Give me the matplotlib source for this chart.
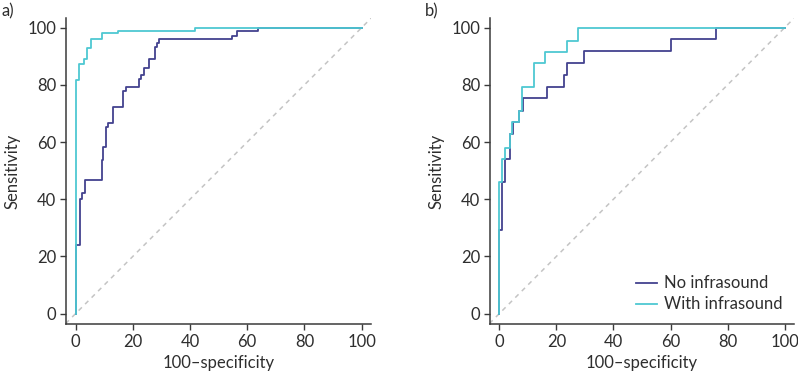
import matplotlib.pyplot as plt

plt.rcParams['font.family'] = ['Lato', 'DejaVu Sans']

navy = '#43428f'
cyan = '#4ec8d2'

# panel a) ROC step curves (100-specificity, sensitivity)
a_no_x = [0, 0, 1.5, 1.5, 2.3, 2.3, 3.4, 3.4, 9.1, 9.1, 9.5, 9.5, 10.7, 10.7, 11.4, 11.4,
          13.1, 13.1, 16.5, 16.5, 17.7, 17.7, 22.1, 22.1, 22.9, 22.9, 23.8, 23.8, 25.8, 25.8,
          27.6, 27.6, 28.3, 28.3, 29.3, 29.3, 54.6, 54.6, 56.4, 56.4, 63.8, 63.8, 100]
a_no_y = [0, 24.1, 24.1, 39.9, 39.9, 42.3, 42.3, 46.6, 46.6, 53.8, 53.8, 58.1, 58.1, 65.2,
          65.2, 66.6, 66.6, 72.2, 72.2, 78.0, 78.0, 79.2, 79.2, 82.2, 82.2, 83.3, 83.3, 85.9,
          85.9, 89.2, 89.2, 93.3, 93.3, 94.8, 94.8, 96.2, 96.2, 97.2, 97.2, 98.8, 98.8, 100, 100]
a_with_x = [0, 0, 1.0, 1.0, 2.9, 2.9, 3.8, 3.8, 5.2, 5.2, 9.3, 9.3, 14.8, 14.8, 41.6, 41.6, 100]
a_with_y = [0, 81.6, 81.6, 87.4, 87.4, 89.2, 89.2, 93.0, 93.0, 95.9, 95.9, 98.0, 98.0, 98.9,
            98.9, 100, 100]

# panel b)
b_no_x = [0, 0, 0.8, 0.8, 2.1, 2.1, 3.8, 3.8, 4.8, 4.8, 6.8, 6.8, 8.2, 8.2, 16.6, 16.6,
          22.8, 22.8, 23.6, 23.6, 29.8, 29.8, 60, 60, 75.8, 75.8, 100]
b_no_y = [0, 29.2, 29.2, 45.9, 45.9, 54.1, 54.1, 62.9, 62.9, 66.9, 66.9, 70.9, 70.9, 75.5,
          75.5, 79.2, 79.2, 83.6, 83.6, 87.8, 87.8, 92.0, 92.0, 95.9, 95.9, 100, 100]
b_with_x = [0, 0, 0.8, 0.8, 2.1, 2.1, 3.6, 3.6, 4.3, 4.3, 6.8, 6.8, 8.0, 8.0, 12.3, 12.3,
            15.9, 15.9, 23.7, 23.7, 27.5, 27.5, 100]
b_with_y = [0, 45.9, 45.9, 54.1, 54.1, 57.9, 57.9, 62.9, 62.9, 66.9, 66.9, 70.9, 70.9, 79.2,
            79.2, 87.8, 87.8, 91.6, 91.6, 95.3, 95.3, 100, 100]

ticks = [0, 20, 40, 60, 80, 100]

fig = plt.figure(figsize=(7.98, 3.76), dpi=100)
ax1 = fig.add_axes([0.083, 0.138, 0.382, 0.815])
ax2 = fig.add_axes([0.614, 0.138, 0.381, 0.815])

panels = [(ax1, a_no_x, a_no_y, a_with_x, a_with_y),
          (ax2, b_no_x, b_no_y, b_with_x, b_with_y)]
for ax, nx, ny, wx, wy in panels:
    ax.plot([-3.5, 104], [-3.5, 104], ls=(0, (3, 3)), color='#c4c4c4', lw=1.1)
    ax.plot(nx, ny, color=navy, lw=1.3, label='No infrasound')
    ax.plot(wx, wy, color=cyan, lw=1.3, label='With infrasound')
    ax.set_xlim(-3.3, 103.3)
    ax.set_ylim(-3.7, 103.5)
    ax.set_xticks(ticks)
    ax.set_yticks(ticks)
    ax.spines['top'].set_visible(False)
    ax.spines['right'].set_visible(False)
    for s in ['left', 'bottom']:
        ax.spines[s].set_color('#3a3a3a')
        ax.spines[s].set_linewidth(1.1)
    ax.tick_params(direction='out', length=4, width=1, color='#3a3a3a',
                   labelsize=12, labelcolor='#2e2e2e', pad=3)
    ax.set_xlabel('100\u2013specificity', fontsize=12, color='#2e2e2e', labelpad=4)
    ax.set_ylabel('Sensitivity', fontsize=12, color='#2e2e2e', labelpad=5)

fig.text(0.002, 0.955, 'a)', fontsize=12, color='#2e2e2e')
fig.text(0.532, 0.955, 'b)', fontsize=12, color='#2e2e2e')

ax2.legend(loc='lower right', frameon=False, fontsize=12, handlelength=1.3,
           handletextpad=0.4, labelspacing=0.3, borderaxespad=0.3,
           labelcolor='#2e2e2e')

fig.savefig('out.png', dpi=100)
